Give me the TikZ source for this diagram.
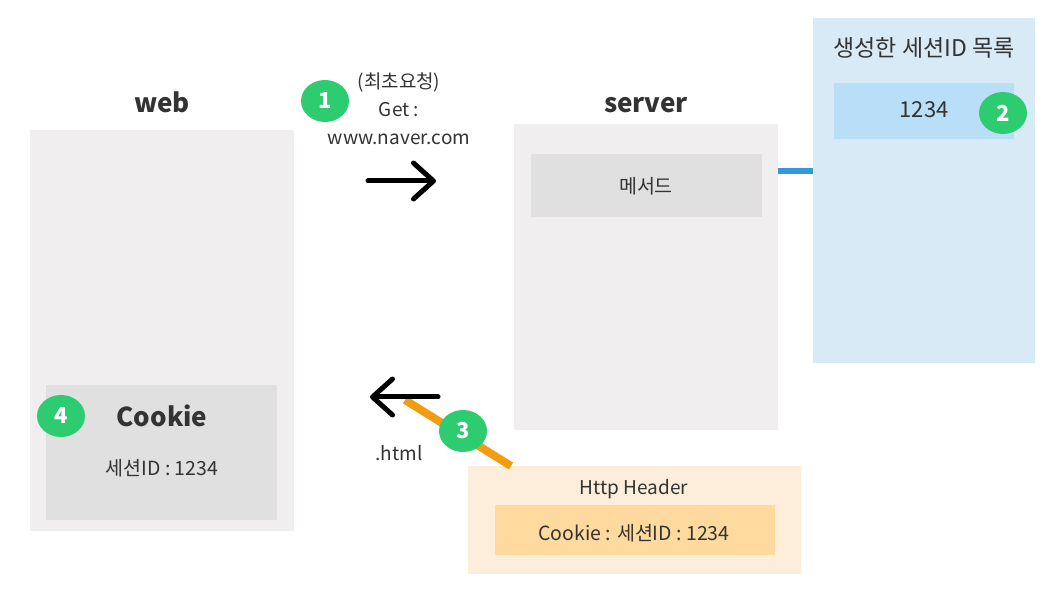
\documentclass[tikz,border=0pt]{standalone}
\usepackage{fontspec}
\setmainfont{Noto Sans CJK KR}
\usetikzlibrary{arrows.meta}
\definecolor{panel}{HTML}{F0EEEF}
\definecolor{inner}{HTML}{E0E0E0}
\definecolor{bluepanel}{HTML}{D9EAF7}
\definecolor{blueinner}{HTML}{B8DFF7}
\definecolor{bluelink}{HTML}{3498DB}
\definecolor{orangepanel}{HTML}{FCEEDA}
\definecolor{orangeinner}{HTML}{FFDA9F}
\definecolor{orangelink}{HTML}{F39C12}
\definecolor{badgegreen}{HTML}{2ECC71}
\definecolor{txt}{HTML}{333333}
\tikzset{
  box/.style={draw=none, inner sep=0pt, outer sep=0pt},
  badge/.style={ellipse, fill=badgegreen, minimum width=48pt, minimum height=42pt, inner sep=0pt, text=white, font=\fontsize{22}{24}\selectfont\bfseries},
  title/.style={font=\fontsize{26}{30}\selectfont\bfseries, text=txt, text height=19pt, text depth=6pt, inner sep=0pt},
  lbl/.style={font=\fontsize{19}{22}\selectfont, text=txt, align=center},
  bigarrow/.style={line width=5pt, line cap=round, -{Straight Barb[length=20pt, width=36pt, line cap=round, line join=round]}},
}
\usetikzlibrary{shapes.geometric}
\begin{document}
\begin{tikzpicture}[x=1pt, y=-1pt]
\useasboundingbox (0,0) rectangle (1063,601);
% web
\node[title] (webt) at (162,106.5) {web};
\fill[panel] (30,130) rectangle (294,531);
\fill[inner] (46,385) rectangle (277,520);
\node[title] (cookiet) at (162,420.5) {Cookie};
\node[lbl, font=\fontsize{19.5}{22}\selectfont] (cookiev) at (162,468) {세션ID : 1234};
% server
\node[title] (servert) at (646,106.5) {server};
\fill[panel] (514,124) rectangle (778,430);
\fill[inner] (531,154) rectangle (762,217);
\node[lbl, font=\fontsize{19.5}{22}\selectfont] (method) at (646,186) {메서드};
% right list
\fill[bluepanel] (813,18) rectangle (1035,363);
\fill[blueinner] (834,83) rectangle (1014,139);
\node[lbl, font=\fontsize{23}{26}\selectfont] (listt) at (924,48) {생성한 세션ID 목록};
\node[lbl, font=\fontsize{22}{26}\selectfont] (listv) at (924,110) {1234};
\coordinate (bl1) at (778,171);
\coordinate (bl2) at (813,171);
\draw[bluelink, line width=6pt] (bl1) -- (bl2);
% http header
\fill[orangepanel] (468,466) rectangle (801,574);
\fill[orangeinner] (495,505) rectangle (775,555);
\node[lbl] (hh) at (634,489) {Http Header};
\node[lbl, font=\fontsize{19.5}{22}\selectfont] (hc) at (634,533) {Cookie : 세션ID : 1234};
% orange link
\coordinate (o1) at (405,400);
\coordinate (o2) at (511,466);
\draw[orangelink, line width=8pt] (o1) -- (o2);
% request text
\node[lbl] (req) at (399,82) {(최초요청)};
\node[lbl] (get) at (399,110) {Get :};
\node[lbl] (url) at (399,139) {www.naver.com};
\node[lbl] (html) at (399,453) {.html};
% arrows
\coordinate (a1s) at (368,181);
\coordinate (a1e) at (436,181);
\draw[bigarrow] (a1s) -- (a1e);
\coordinate (a2s) at (438,397);
\coordinate (a2e) at (370,397);
\draw[bigarrow] (a2s) -- (a2e);
% badges
\node[badge] (b1) at (325,101) {1};
\node[badge] (b2) at (1003,113) {2};
\node[badge] (b3) at (463,431) {3};
\node[badge] (b4) at (61,416) {4};
\end{tikzpicture}
\end{document}
